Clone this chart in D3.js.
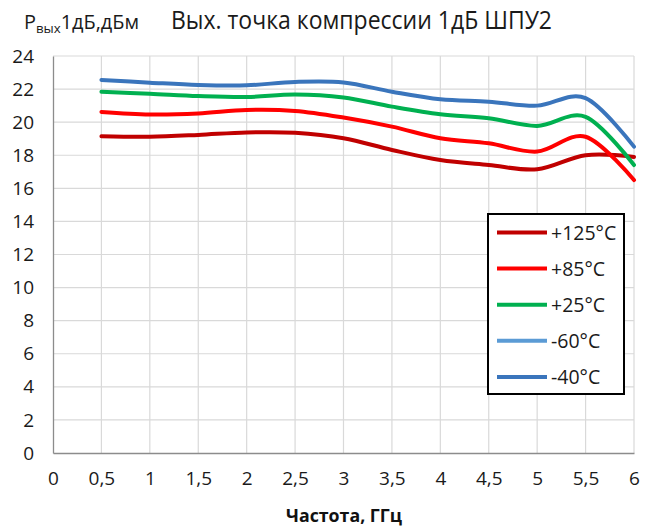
<!DOCTYPE html>
<html>
<head>
<meta charset="utf-8">
<script src="https://cdn.jsdelivr.net/npm/d3@7"></script>
<style>
  html, body { margin: 0; padding: 0; background: #fff; }
  svg { display: block; font-family: "Open Sans", "Noto Sans", sans-serif; }
</style>
</head>
<body>
<svg id="chart" width="645" height="529"></svg>
<script>
// ---- data ----
const freqs = [0.5, 1, 1.5, 2, 2.5, 3, 3.5, 4, 4.5, 5, 5.5, 6];
const p125 = [19.15, 19.12, 19.23, 19.38, 19.36, 19.03, 18.32, 17.71, 17.41, 17.15, 18.0, 17.9];
const p85  = [20.62, 20.47, 20.53, 20.74, 20.68, 20.28, 19.73, 19.03, 18.72, 18.22, 19.12, 16.5];
const p25  = [21.84, 21.72, 21.58, 21.52, 21.67, 21.49, 20.94, 20.48, 20.24, 19.77, 20.32, 17.41];
const m60  = [];
const m40  = [22.55, 22.39, 22.25, 22.23, 22.43, 22.4, 21.84, 21.38, 21.24, 21.0, 21.45, 18.52];
const seriesNames = ["+125°C", "+85°C", "+25°C", "-60°C", "-40°C"];
const xTicks = [0, 0.5, 1, 1.5, 2, 2.5, 3, 3.5, 4, 4.5, 5, 5.5, 6];
const yTicks = [0, 2, 4, 6, 8, 10, 12, 14, 16, 18, 20, 22, 24];
const titleText = "Вых. точка компрессии 1дБ ШПУ2";
const xTitle = "Частота, ГГц";

const colors = ["#C00000", "#FF0000", "#00B050", "#5B9BD5", "#3A75BC"];
const seriesData = [p125, p85, p25, m60, m40];

const svg = d3.select("#chart");
const x = d3.scaleLinear().domain([0, 6]).range([53, 634]);
const y = d3.scaleLinear().domain([0, 24]).range([453, 56]);
const fmt = d => String(d).replace(".", ",");

// gridlines
svg.append("g").selectAll("line.v").data(xTicks.slice(1)).join("line")
  .attr("x1", d => x(d)).attr("x2", d => x(d))
  .attr("y1", y(0)).attr("y2", y(24))
  .attr("stroke", "#d9d9d9").attr("stroke-width", 1.2);
svg.append("g").selectAll("line.h").data(yTicks.slice(1)).join("line")
  .attr("x1", x(0)).attr("x2", x(6))
  .attr("y1", d => y(d)).attr("y2", d => y(d))
  .attr("stroke", "#d9d9d9").attr("stroke-width", 1.2);

// axes
const yAxis = d3.axisLeft(y).tickValues(yTicks).tickSize(0).tickPadding(19).tickFormat(fmt);
const gy = svg.append("g").attr("transform", `translate(${x(0)},0)`).call(yAxis);
gy.select(".domain").attr("stroke", "#8c8c8c").attr("stroke-width", 1.3);
gy.selectAll("text").attr("font-size", 19).attr("fill", "#1a1a1a")
  .attr("font-family", "Open Sans, sans-serif");

const xAxis = d3.axisBottom(x).tickValues(xTicks).tickSize(0).tickPadding(19).tickFormat(fmt);
const gx = svg.append("g").attr("transform", `translate(0,${y(0)})`).call(xAxis);
gx.select(".domain").attr("stroke", "#8c8c8c").attr("stroke-width", 1.3);
gx.selectAll("text").attr("font-size", 19).attr("fill", "#1a1a1a")
  .attr("font-family", "Open Sans, sans-serif");

// lines
const line = d3.line()
  .x((d, i) => x(freqs[i]))
  .y(d => y(d))
  .curve(d3.curveCardinal.tension(0));
svg.append("g").selectAll("path").data(seriesData).join("path")
  .attr("d", d => d.length ? line(d) : null)
  .attr("fill", "none")
  .attr("stroke", (d, i) => colors[i])
  .attr("stroke-width", 4)
  .attr("stroke-linecap", "round");

// title
svg.append("text").attr("x", 171).attr("y", 29)
  .attr("font-size", 25).attr("fill", "#1a1a1a")
  .attr("textLength", 381).attr("lengthAdjust", "spacingAndGlyphs")
  .text(titleText);

// y-axis label
const yl = svg.append("text").attr("x", 24).attr("y", 29).attr("font-size", 19.5).attr("fill", "#1a1a1a")
  .attr("textLength", 115).attr("lengthAdjust", "spacingAndGlyphs");
yl.append("tspan").text("P");
yl.append("tspan").attr("font-size", 13).attr("dy", 4).text("вых");
yl.append("tspan").attr("dy", -4).text("1дБ,дБм");

// x-axis title
svg.append("text").attr("x", 344).attr("y", 522).attr("text-anchor", "middle")
  .attr("font-size", 18.5).attr("font-weight", "bold").attr("fill", "#111")
  .attr("textLength", 116).attr("lengthAdjust", "spacingAndGlyphs")
  .text(xTitle);

// legend
const lg = svg.append("g");
lg.append("rect").attr("x", 488).attr("y", 214).attr("width", 136).attr("height", 180)
  .attr("fill", "#fff").attr("stroke", "#000").attr("stroke-width", 2);
const rows = lg.selectAll("g.row").data(seriesNames).join("g")
  .attr("transform", (d, i) => `translate(0,${232.5 + i * 36.1})`);
rows.append("line").attr("x1", 497).attr("x2", 547).attr("y1", 0).attr("y2", 0)
  .attr("stroke", (d, i) => colors[i]).attr("stroke-width", 4);
rows.append("text").attr("x", 551).attr("y", 7.5).attr("font-size", 19.5).attr("fill", "#1a1a1a")
  .text(d => d);
</script>
</body>
</html>
